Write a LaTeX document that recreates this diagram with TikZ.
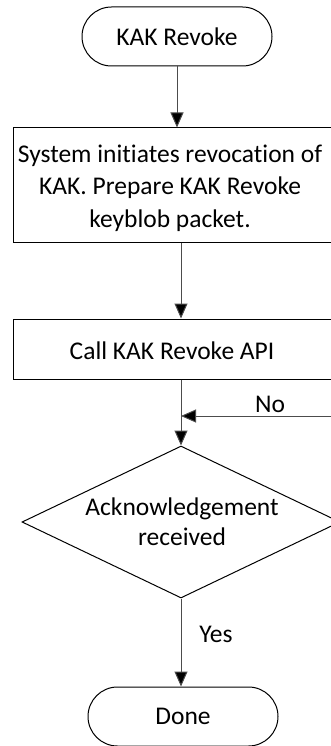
\documentclass[tikz,border=0pt]{standalone}
\usepackage{fontspec}
\setmainfont{Carlito}[Ligatures=NoCommon]
\usetikzlibrary{arrows.meta,shapes.geometric}
\begin{document}
\begin{tikzpicture}[x=1pt,y=-1pt,
  every node/.style={font=\fontsize{25.5}{30}\selectfont},
  outline/.style={draw=black,line width=1pt,inner sep=0pt},
  terminal/.style={outline,rectangle,rounded corners=29.5pt,minimum width=190pt,minimum height=59pt},
  stepbox/.style={outline,rectangle,minimum width=328pt},
  decision/.style={outline,diamond,minimum width=318pt,minimum height=152pt},
  txt/.style={inner sep=0pt,align=center},
  conn/.style={draw=black!70,line width=1pt,-{Triangle[length=15pt,width=13pt,fill=black]}}]
  \clip (0,0) rectangle (331,746);
  \useasboundingbox (0,0) rectangle (331,746);

  % shapes
  \node[terminal] (start) at (177,36.5) {KAK Revoke};
  \node[stepbox,minimum height=114pt] (prep) at (177,185) {};
  \node[txt,font=\fontsize{25.5}{32.5}\selectfont] (preptext) at (170,188) {System initiates revocation of\\KAK. Prepare KAK Revoke\\keyblob packet.};
  \node[stepbox,minimum height=60pt] (api) at (177,349) {};
  \node[txt] (apitext) at (172,351) {Call KAK Revoke API};
  \node[decision] (ack) at (181,522) {};
  \node[txt] (acktext) at (182,522) {Acknowledgement\\received};
  \node[terminal] (done) at (183,716.5) {Done};

  % connectors
  \coordinate (loopin) at (181,416);
  \draw[conn] (start.south) -- (start.south |- prep.north);
  \draw[conn] (prep.south -| ack.north) -- (api.north -| ack.north);
  \draw[conn] (api.south -| ack.north) -- (ack.north);
  \draw[conn] (ack.east) -- ++(15,0) |- (loopin);
  \draw[conn] (ack.south) -- (ack.south |- done.north);

  % branch labels
  \node[txt] (no) at (270,404) {No};
  \node[txt] (yes) at (216,634) {Yes};
\end{tikzpicture}
\end{document}
